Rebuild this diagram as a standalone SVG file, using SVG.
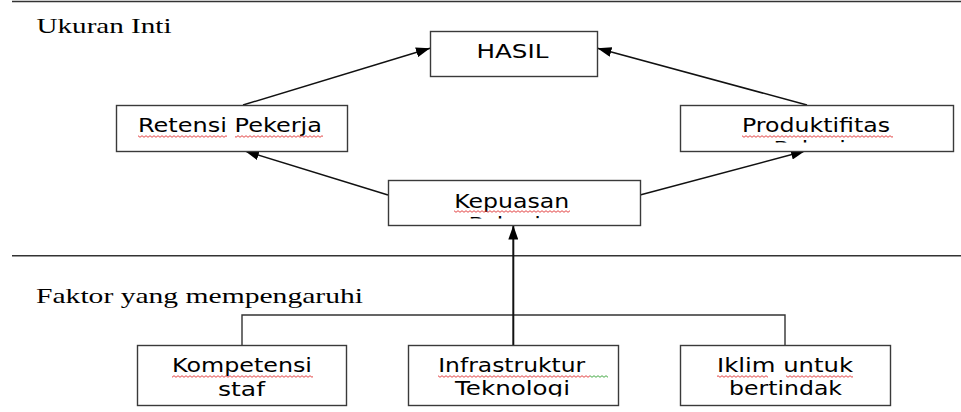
<svg xmlns="http://www.w3.org/2000/svg" width="961" height="412" viewBox="0 0 961 412">
<style>
.bg{fill:#fff}
.box{fill:#fff;stroke:#3a3a3a;stroke-width:1.4}
.lbl{font-family:"DejaVu Sans","Verdana",sans-serif;font-size:19px;fill:#000;text-anchor:middle}
.hd{font-family:"Liberation Serif","Times New Roman",serif;font-size:22px;fill:#000}
.rule{stroke:#333;stroke-width:1.4;fill:none}
.con{stroke:#111;stroke-width:1.5;fill:none}
.thick{stroke:#111;stroke-width:2;fill:none}
.wr{fill:url(#wavyR)}
.wg{fill:url(#wavyG)}
</style>
<defs>
<marker id="ah" viewBox="0 0 14 10" refX="14" refY="5" markerWidth="14" markerHeight="10" markerUnits="userSpaceOnUse" orient="auto">
<path d="M0,0 L14,5 L0,10 Z" fill="#000"/>
</marker>
<pattern id="wavyR" width="4" height="3" patternUnits="userSpaceOnUse">
<path d="M0,2.3 L2,0.7 L4,2.3" fill="none" stroke="#e03030" stroke-width="0.9"/>
</pattern>
<pattern id="wavyG" width="4" height="3" patternUnits="userSpaceOnUse">
<path d="M0,2.3 L2,0.7 L4,2.3" fill="none" stroke="#30a030" stroke-width="0.9"/>
</pattern>
<clipPath id="clipKep"><rect x="389" y="181" width="250" height="37.5"/></clipPath>
<clipPath id="clipProd"><rect x="681" y="106" width="272" height="36.5"/></clipPath>
<clipPath id="clipBottom"><rect x="0" y="346" width="961" height="50.5"/></clipPath>
</defs>
<rect class="bg" x="0" y="0" width="961" height="412"/>

<g id="rules">
<line class="rule" x1="12" y1="1.5" x2="961" y2="1.5"/>
<line class="rule" x1="12" y1="255.7" x2="961" y2="255.7"/>
<text class="hd" x="36.5" y="32.7" textLength="135" lengthAdjust="spacingAndGlyphs">Ukuran Inti</text>
<text class="hd" x="36" y="303" textLength="327" lengthAdjust="spacingAndGlyphs">Faktor yang mempengaruhi</text>
</g>

<g id="connectors">
<line class="con" x1="243" y1="105" x2="430" y2="48.3" marker-end="url(#ah)"/>
<line class="con" x1="807" y1="105" x2="597.5" y2="48.3" marker-end="url(#ah)"/>
<line class="con" x1="388" y1="195" x2="245" y2="151" marker-end="url(#ah)"/>
<line class="con" x1="640" y1="195" x2="805" y2="151" marker-end="url(#ah)"/>
<polyline class="rule" points="242,345 242,315 785,315 785,345"/>
<line class="thick" x1="513.3" y1="345" x2="513.3" y2="225.5" marker-end="url(#ah)"/>
</g>

<g id="hasil">
<rect class="box" x="430.5" y="31.5" width="167" height="45"/>
<text class="lbl" x="512.5" y="58.3" textLength="72" lengthAdjust="spacingAndGlyphs">HASIL</text>
</g>

<g id="retensi">
<rect class="box" x="116.5" y="105.5" width="231" height="46"/>
<text class="lbl" x="230" y="132.3" textLength="184" lengthAdjust="spacingAndGlyphs">Retensi Pekerja</text>
<rect class="wr" x="138" y="135" width="89" height="3"/>
<rect class="wr" x="235" y="135" width="88" height="3"/>
</g>

<g id="produktifitas">
<rect class="box" x="680.5" y="105.5" width="273" height="46"/>
<text class="lbl" x="816" y="132.3" textLength="148" lengthAdjust="spacingAndGlyphs">Produktifitas</text>
<rect class="wr" x="742" y="135" width="151" height="3"/>
<text class="lbl" x="817" y="154.5" textLength="87" lengthAdjust="spacingAndGlyphs" clip-path="url(#clipProd)">Pekerja</text>
</g>

<g id="kepuasan">
<rect class="box" x="388.5" y="180.5" width="252" height="45"/>
<text class="lbl" x="511.7" y="208.3" textLength="115" lengthAdjust="spacingAndGlyphs">Kepuasan</text>
<rect class="wr" x="454" y="210" width="116" height="3"/>
<text class="lbl" x="512" y="230.5" textLength="87" lengthAdjust="spacingAndGlyphs" clip-path="url(#clipKep)">Pekerja</text>
</g>

<g id="kompetensi">
<rect class="box" x="137.5" y="345.5" width="209" height="60"/>
<text class="lbl" x="242" y="372" textLength="140" lengthAdjust="spacingAndGlyphs">Kompetensi</text>
<rect class="wr" x="172" y="375" width="141" height="3"/>
<text class="lbl" x="241.5" y="396" textLength="47" lengthAdjust="spacingAndGlyphs">staf</text>
</g>

<g id="infrastruktur">
<rect class="box" x="408.5" y="345.5" width="210" height="60"/>
<text class="lbl" x="511.7" y="372" textLength="147" lengthAdjust="spacingAndGlyphs">Infrastruktur</text>
<rect class="wr" x="438" y="375" width="152" height="3"/>
<rect class="wg" x="590" y="375" width="18" height="3"/>
<text class="lbl" x="512.5" y="395" textLength="115" lengthAdjust="spacingAndGlyphs" clip-path="url(#clipBottom)">Teknologi</text>
</g>

<g id="iklim">
<rect class="box" x="680.5" y="345.5" width="210" height="60"/>
<text class="lbl" x="785" y="372" textLength="136" lengthAdjust="spacingAndGlyphs">Iklim untuk</text>
<rect class="wr" x="717" y="375" width="51" height="3"/>
<rect class="wr" x="786" y="375" width="67" height="3"/>
<text class="lbl" x="785.5" y="395" textLength="113" lengthAdjust="spacingAndGlyphs">bertindak</text>
</g>
</svg>
